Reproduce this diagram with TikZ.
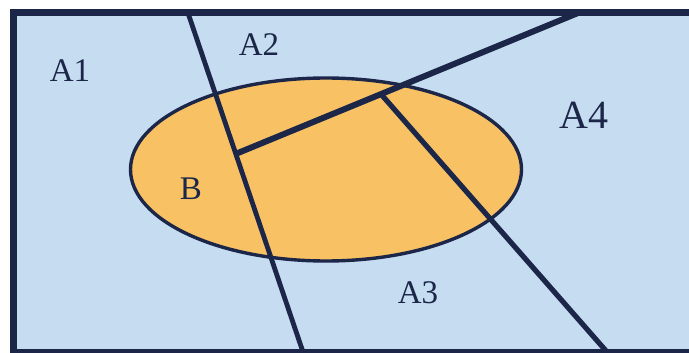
\documentclass[tikz,border=0pt]{standalone}
\usepackage{fontspec}
\setmainfont{Liberation Serif}
\usetikzlibrary{positioning}
\definecolor{areablue}{HTML}{C6DCF0}
\definecolor{setorange}{HTML}{F8C163}
\definecolor{inkblue}{HTML}{1B2649}

\begin{document}
\begin{tikzpicture}[x=1pt,y=-1pt,
  cut/.style={draw=inkblue,line width=4.8pt},
  lbl/.style={text=inkblue,inner sep=0pt,font=\fontsize{33}{33}\selectfont}]
\clip (0,0) rectangle (689,353);
% sample space and event B
\fill[areablue] (13.5,13) rectangle (720,352.5);
\draw[fill=setorange,draw=inkblue,line width=3.4pt] (326,169.5) ellipse [x radius=195.5,y radius=91.5];
% partition lines
\coordinate (t1) at (188,13);
\coordinate (b1) at (303,352);
\coordinate (j1) at (235.5,154);
\coordinate (t2) at (578,13);
\coordinate (j2) at (380,93);
\coordinate (b3) at (607,352);
\draw[cut] (t1) -- (b1);
\draw[cut,line width=6pt] (j1) -- (t2);
\draw[cut,line width=5.2pt] (j2) -- (b3);
\draw[inkblue,line width=7pt] (720,13) -- (13.5,13) -- (13.5,352.5) -- (720,352.5);
% labels
\node[lbl] (a1) at (70,71) {A1};
\node[lbl] (a2) at (259,45) {A2};
\node[lbl] (a3) at (418,293) {A3};
\node[lbl,font=\fontsize{40}{40}\selectfont] (a4) at (584,115) {A4};
\node[lbl] (b) at (191,189) {B};
\end{tikzpicture}
\end{document}
